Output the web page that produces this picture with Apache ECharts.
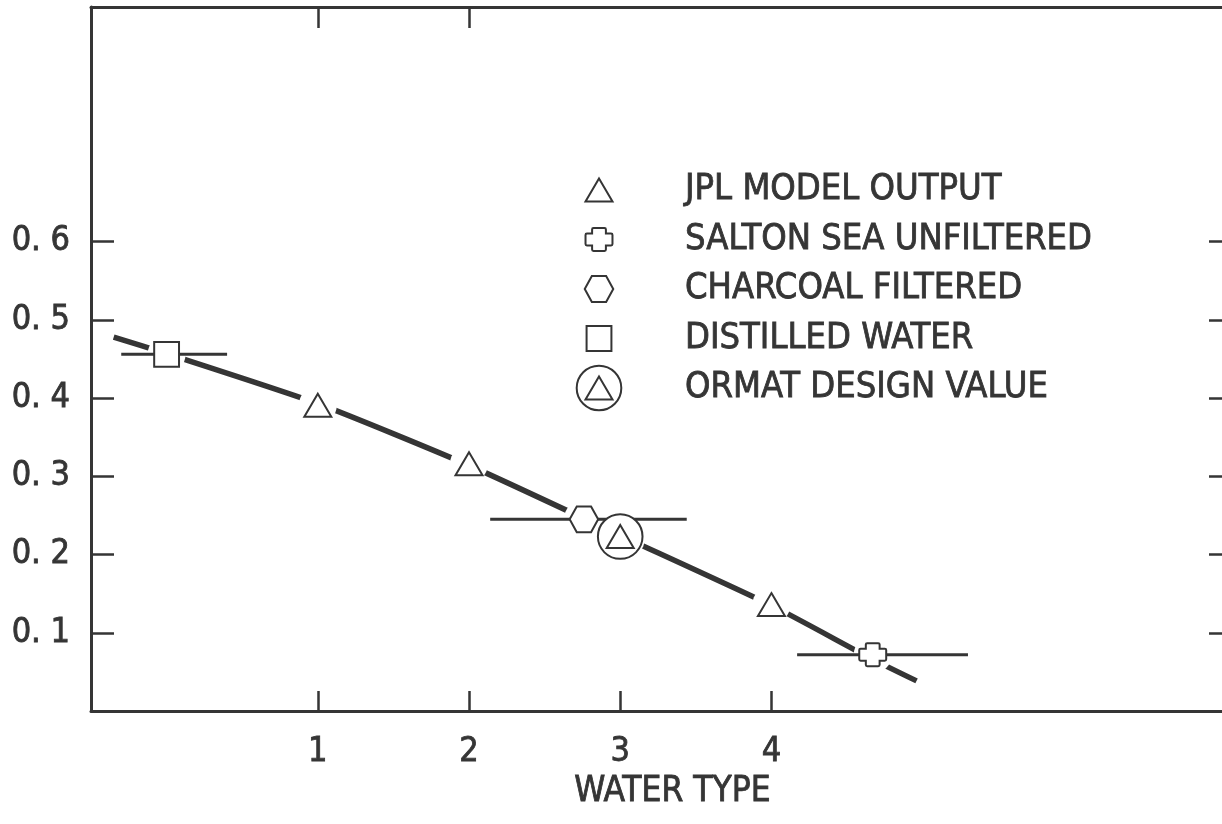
<!DOCTYPE html>
<html><head><meta charset="utf-8">
<script src="https://cdn.jsdelivr.net/npm/echarts@6/dist/echarts.min.js"></script>
<style>html,body{margin:0;padding:0;background:#fff}#c{width:1222px;height:824px}</style>
</head><body><div id="c"></div>
<script>
const FONT = "'Liberation Sans Narrow', 'DejaVu Sans Condensed', 'Arial Narrow', sans-serif";
const INK = '#353535';

// ---- tick values / labels ----
const xTickValues = [1, 2, 3, 4];
const topTickValues = [1, 2];
const yTickValues = [0.1, 0.2, 0.3, 0.4, 0.5, 0.6];
const yTickLabels = ['0. 1', '0. 2', '0. 3', '0. 4', '0. 5', '0. 6'];
const xAxisName = 'WATER TYPE';

// ---- series names ----
const seriesNames = ['JPL MODEL OUTPUT', 'SALTON SEA UNFILTERED', 'CHARCOAL FILTERED', 'DISTILLED WATER', 'ORMAT DESIGN VALUE'];

// ---- data ----
const jplX = [1, 2, 4];
const jplY = [0.391, 0.316, 0.136];
const saltonX = [4.67];
const saltonY = [0.072];
const saltonLo = [4.17];
const saltonHi = [5.30];
const charcoalX = [2.76];
const charcoalY = [0.245];
const charcoalLo = [2.14];
const charcoalHi = [3.44];
const distilledX = [0];
const distilledY = [0.456];
const distilledLo = [-0.30];
const distilledHi = [0.40];
const ormatX = [3];
const ormatY = [0.223];
// fitted curve through the points
const fitX = [-0.35, 0, 1, 2, 3, 4, 4.66, 4.96];
const fitY = [0.478, 0.457, 0.393, 0.314, 0.2245, 0.135, 0.067, 0.0385];

// ---- symbols (100x100 box, corner moves keep common scale) ----
const BOX = 'M0,0 M100,100 ';
const SYM_TRI = 'path://' + BOX + 'M50,25 L79.35,75 L20.65,75 Z';
const SYM_SQUARE = 'path://' + BOX + 'M23,23 L77,23 L77,77 L23,77 Z';
const SYM_HEX = 'path://' + BOX + 'M19,50 L34.5,22 L65.5,22 L81,50 L65.5,78 L34.5,78 Z';
const SYM_CROSS = 'path://' + BOX + 'M38,25 L62,25 Q65,25 65,28 L65,37 L76.3,37 Q79.3,37 79.3,40 L79.3,60 Q79.3,63 76.3,63 L65,63 L65,72 Q65,75 62,75 L38,75 Q35,75 35,72 L35,63 L23.7,63 Q20.7,63 20.7,60 L20.7,40 Q20.7,37 23.7,37 L35,37 L35,28 Q35,25 38,25 Z';
const SYM_ORMAT = 'path://' + BOX + 'M98.5,50 A48.5,48.5 0 1,1 1.5,50 A48.5,48.5 0 1,1 98.5,50 Z M50,25 L79.35,75 L20.65,75 Z';

const pts = (xs, ys) => xs.map((x, i) => [x, ys[i]]);
const bars = (lo, hi, ys) => lo.map((l, i) => [l, hi[i], ys[i]]);

const axisLine = { show: true, onZero: false, lineStyle: { color: INK, width: 3 } };
const tickStyle = { color: INK, width: 2.5 };
const markerStyle = { color: '#fff', borderColor: INK, borderWidth: 2, opacity: 1 };
const textBase = { color: INK, fontFamily: FONT, textBorderColor: INK, textBorderWidth: 0.8 };

function marker(name, symbol, data) {
  return { name, type: 'scatter', symbol, symbolSize: 46, symbolKeepAspect: true, data, z: 4,
    itemStyle: markerStyle, emphasis: { disabled: true }, silent: true };
}
function halo(size, data) {
  return { type: 'scatter', symbol: 'circle', symbolSize: size, data, z: 2,
    itemStyle: { color: '#fff', borderWidth: 0, opacity: 1 }, emphasis: { disabled: true }, silent: true };
}

const chart = echarts.init(document.getElementById('c'), null, { renderer: 'canvas' });
chart.setOption({
  backgroundColor: '#fff',
  animation: false,
  grid: { left: 91, right: 0, top: 7, bottom: 113, containLabel: false },
  xAxis: [
    { type: 'value', min: -0.5, max: 6.98, position: 'bottom', axisLine, splitLine: { show: false },
      axisTick: { show: true, inside: true, length: 20, customValues: xTickValues, lineStyle: tickStyle },
      axisLabel: Object.assign({ show: true, customValues: xTickValues, fontSize: 34, margin: 24 }, textBase),
      name: xAxisName, nameLocation: 'middle', nameGap: 52,
      nameTextStyle: Object.assign({ fontSize: 35, padding: [0, 0, 0, 32] }, textBase) },
    { type: 'value', min: -0.5, max: 6.98, position: 'top', axisLine, splitLine: { show: false },
      axisTick: { show: true, inside: true, length: 21, customValues: topTickValues, lineStyle: tickStyle },
      axisLabel: { show: false } }
  ],
  yAxis: [
    { type: 'value', min: 0, max: 0.9, position: 'left', axisLine, splitLine: { show: false },
      axisTick: { show: true, inside: true, length: 23, customValues: yTickValues, lineStyle: tickStyle },
      axisLabel: Object.assign({ show: true, customValues: yTickValues, fontSize: 34, margin: 21,
        formatter: v => { const i = yTickValues.findIndex(t => Math.abs(t - v) < 1e-6); return i >= 0 ? yTickLabels[i] : ''; } }, textBase) },
    { type: 'value', min: 0, max: 0.9, position: 'right', axisLine: { show: false, onZero: false }, splitLine: { show: false },
      axisTick: { show: true, inside: true, length: 13, customValues: yTickValues, lineStyle: tickStyle },
      axisLabel: { show: false } }
  ],
  legend: {
    orient: 'vertical', left: 570, top: 161, itemWidth: 46, itemHeight: 46, itemGap: 1.5,
    data: seriesNames, selectedMode: false,
    textStyle: Object.assign({ fontSize: 36, padding: [0, 0, 0, 58] }, textBase),
    itemStyle: { color: '#fff', borderColor: INK, borderWidth: 2 }
  },
  series: [
    { type: 'line', data: pts(fitX, fitY), showSymbol: false, smooth: 0.2, z: 1, silent: true,
      lineStyle: { color: INK, width: 5.5 } },
    halo(38, pts(jplX, jplY)),
    halo(38, pts(saltonX, saltonY)),
    halo(40, pts(charcoalX, charcoalY)),
    halo(38, pts(distilledX, distilledY)),
    halo(50, pts(ormatX, ormatY)),
    { type: 'custom', z: 3, silent: true,
      data: bars(distilledLo, distilledHi, distilledY).concat(bars(charcoalLo, charcoalHi, charcoalY), bars(saltonLo, saltonHi, saltonY)),
      encode: { x: [0, 1], y: 2 },
      renderItem: (params, api) => {
        const a = api.coord([api.value(0), api.value(2)]);
        const b = api.coord([api.value(1), api.value(2)]);
        return { type: 'line', shape: { x1: a[0], y1: a[1], x2: b[0], y2: b[1] }, style: { stroke: INK, lineWidth: 3 } };
      } },
    marker(seriesNames[0], SYM_TRI, pts(jplX, jplY)),
    marker(seriesNames[1], SYM_CROSS, pts(saltonX, saltonY)),
    marker(seriesNames[2], SYM_HEX, pts(charcoalX, charcoalY)),
    marker(seriesNames[3], SYM_SQUARE, pts(distilledX, distilledY)),
    marker(seriesNames[4], SYM_ORMAT, pts(ormatX, ormatY))
  ]
});
</script>
</body></html>
